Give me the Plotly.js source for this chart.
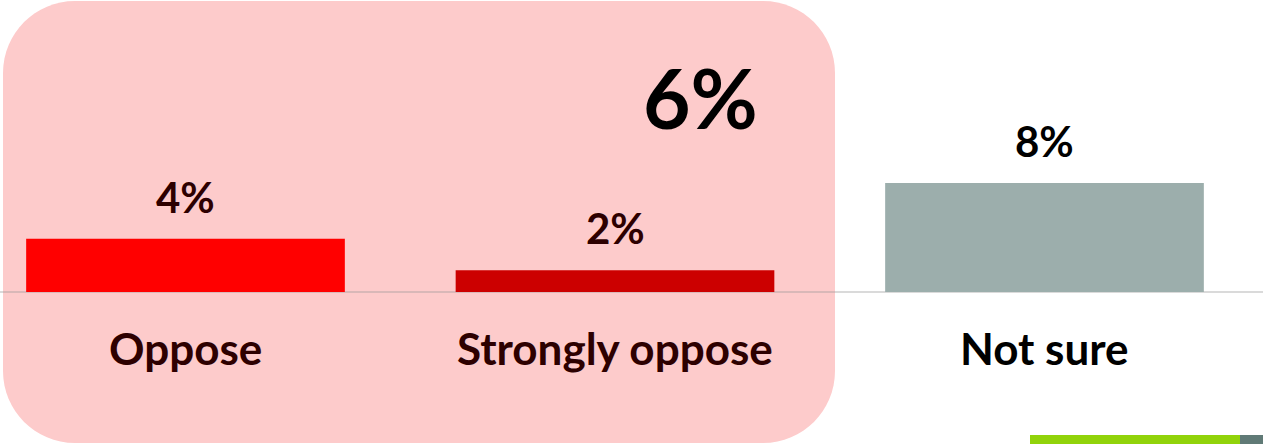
<!DOCTYPE html>
<html>
<head>
<meta charset="utf-8">
<script src="https://cdn.plot.ly/plotly-3.0.1.min.js"></script>
<style>html,body{margin:0;padding:0;background:#fff;}#chart{width:1263px;height:444px;}</style>
</head>
<body>
<div id="chart"></div>
<script>
// Data
const categories = ["Oppose", "Strongly oppose", "Not sure"];
const values = [3.9, 1.6, 8.0];
const valueLabels = ["4%", "2%", "8%"];
const barColors = ["#ff0000", "#cc0000", "#9caeac"];
const labelColors = ["#2d0000", "#2d0000", "#000000"];
const groupTotalLabel = "6%";

const W = 1263, H = 444;
const px = x => x / W;
const py = y => 1 - y / H;

// rounded rectangle path in paper coords
function roundRect(x0, y0, x1, y1, r) {
  const k = 0.5523 * r;
  const P = (x, y) => px(x) + "," + py(y);
  return "M" + P(x0 + r, y0) +
    " L" + P(x1 - r, y0) +
    " C" + P(x1 - r + k, y0) + " " + P(x1, y0 + r - k) + " " + P(x1, y0 + r) +
    " L" + P(x1, y1 - r) +
    " C" + P(x1, y1 - r + k) + " " + P(x1 - r + k, y1) + " " + P(x1 - r, y1) +
    " L" + P(x0 + r, y1) +
    " C" + P(x0 + r - k, y1) + " " + P(x0, y1 - r + k) + " " + P(x0, y1 - r) +
    " L" + P(x0, y0 + r) +
    " C" + P(x0, y0 + r - k) + " " + P(x0 + r - k, y0) + " " + P(x0 + r, y0) + " Z";
}

const font = "Lato, 'Open Sans', sans-serif";

const trace = {
  type: "bar",
  x: categories,
  y: values,
  marker: {color: barColors},
  width: 0.742,
  hoverinfo: "none"
};

const annotations = [];
categories.forEach((c, i) => {
  annotations.push({
    x: c, y: values[i], xref: "x", yref: "y",
    text: valueLabels[i], showarrow: false,
    yanchor: "middle", yshift: 42,
    font: {family: font, size: 42, color: labelColors[i], weight: 700}
  });
  annotations.push({
    x: c, y: 0, xref: "x", yref: "y",
    text: categories[i], showarrow: false,
    yanchor: "middle", yshift: -56,
    font: {family: font, size: 44, color: labelColors[i], weight: 700}
  });
});
annotations.push({
  x: px(700), y: py(97), xref: "paper", yref: "paper",
  text: groupTotalLabel, showarrow: false,
  xanchor: "center", yanchor: "middle",
  font: {family: font, size: 82, color: "#000000", weight: 700}
});

const pxPerUnitX = 429.5;
const x0px = 185.5;
const zeroPx = 292, pxPerUnitY = 13.625;

const layout = {
  width: W, height: H,
  margin: {l: 0, r: 0, t: 0, b: 0, pad: 0},
  paper_bgcolor: "#ffffff",
  plot_bgcolor: "rgba(0,0,0,0)",
  showlegend: false,
  xaxis: {
    type: "category",
    range: [-x0px / pxPerUnitX, (W - x0px) / pxPerUnitX],
    showticklabels: false, showgrid: false, zeroline: false, showline: false,
    fixedrange: true
  },
  yaxis: {
    range: [-(H - zeroPx) / pxPerUnitY, zeroPx / pxPerUnitY],
    showticklabels: false, showgrid: false,
    zeroline: true, zerolinecolor: "rgba(150,150,150,0.35)", zerolinewidth: 2,
    fixedrange: true
  },
  shapes: [
    {type: "path", xref: "paper", yref: "paper", layer: "below",
     path: roundRect(3, 1, 835, 443, 72),
     fillcolor: "#fdcbcb", line: {width: 0}},
    {type: "rect", xref: "paper", yref: "paper", layer: "above",
     x0: px(1030), x1: px(1240), y0: py(444), y1: py(435),
     fillcolor: "#91d30a", line: {width: 0}},
    {type: "rect", xref: "paper", yref: "paper", layer: "above",
     x0: px(1240), x1: px(1263), y0: py(444), y1: py(435),
     fillcolor: "#607a76", line: {width: 0}}
  ],
  annotations: annotations
};

Plotly.newPlot("chart", [trace], layout, {displayModeBar: false, staticPlot: true});
</script>
</body>
</html>
